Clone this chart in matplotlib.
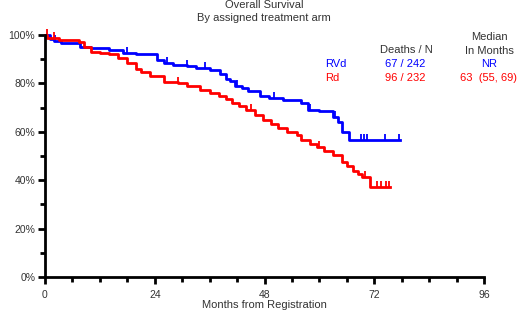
import numpy as np
import matplotlib
matplotlib.use("Agg")
import matplotlib.pyplot as plt

plt.rcParams['font.family'] = ['Liberation Sans', 'DejaVu Sans']

# Kaplan-Meier step data (months, % surviving)
rvd_t = [0, 1, 2, 3.5, 5, 7.7, 10, 14, 17, 20, 24.5, 26, 28, 31, 33, 36, 38.3,
         39.5, 40.5, 41.5, 43, 44.5, 47, 49, 52, 56, 57.5, 60, 63, 64, 65, 66.5, 77.7]
rvd_s = [100, 98.5, 97.5, 96.7, 96.5, 95, 94.6, 93.8, 92.5, 92, 89.7, 88.5, 87.6,
         87, 86.4, 85.5, 84, 82, 81, 79, 78, 77, 75, 74, 73, 72, 69, 68.5, 66, 64,
         60, 56.6, 56.6]
rd_t = [0, 0.5, 3, 7.5, 8.5, 10, 12, 14, 16, 18, 20, 21, 23, 26, 29, 31, 34, 36,
        38, 39.5, 41, 42.5, 44, 46, 47.7, 49.5, 51, 53, 55, 56, 58, 59.5, 61, 63,
        65, 66, 67.4, 68.5, 69.4, 71, 75.5]
rd_s = [100, 98.8, 98, 97, 95, 93, 92.5, 92, 90.5, 88.5, 86, 84.7, 83, 80.6, 80,
        79, 77.3, 76.2, 75, 73.5, 72, 70.5, 69, 67, 65, 63.3, 61.6, 60, 58.7, 56.6,
        55, 53.7, 52, 50.4, 47.5, 46, 44, 42.5, 41.3, 37.2, 37.2]

# censored observations (months)
rvd_cens = [2.2, 18, 26.7, 31, 35, 42, 50, 58, 63.5, 69, 69.8, 70.5, 74.4, 77.5]
rd_cens = [0.4, 2, 29, 45, 60, 70, 72.5, 73.5, 74.5, 75.3]

arms = ['RVd', 'Rd']
deaths_n = ['67 / 242', '96 / 232']
medians = ['NR', '63  (55, 69)']
colors = ['#0000ff', '#ff0000']


def surv_at(t, s, x):
    i = np.searchsorted(t, x, side='right') - 1
    return np.array(s)[i]


fig = plt.figure(figsize=(5.2, 3.12), dpi=100)
ax = fig.add_axes([45 / 520, 35 / 312, 439 / 520, 242 / 312])

for t, s, cens, c in [(rvd_t, rvd_s, rvd_cens, colors[0]), (rd_t, rd_s, rd_cens, colors[1])]:
    ax.step(t, s, where='post', color=c, lw=2, clip_on=False)
    ax.plot(cens, surv_at(t, s, cens) + 1.3, linestyle='none', marker='|',
            color=c, markersize=5, mew=1.3, clip_on=False)

ax.set_xlim(0, 96)
ax.set_ylim(0, 100)
ax.set_xticks([0, 24, 48, 72, 96])
ax.set_xticks(np.arange(0, 97, 6), minor=True)
ax.set_yticks(range(0, 101, 20))
ax.set_yticks(range(0, 101, 10), minor=True)
ax.set_yticklabels([f'{v}%' for v in range(0, 101, 20)])
for side in ['top', 'right']:
    ax.spines[side].set_visible(False)
for side in ['left', 'bottom']:
    ax.spines[side].set_linewidth(2)
ax.tick_params(which='major', length=5, width=2, labelsize=7.5, colors='black', pad=2)
ax.tick_params(which='minor', length=3.5, width=2)
ax.tick_params(axis='both', labelcolor='#333333')
ax.tick_params(axis='x', pad=4)
ax.set_xlabel('Months from Registration', fontsize=8, color='#333333', labelpad=0)

fig.text(264 / 520, 1 - 5 / 312, 'Overall Survival', ha='center', va='center',
         fontsize=8, color='#333333')
fig.text(264 / 520, 1 - 18 / 312, 'By assigned treatment arm', ha='center', va='center',
         fontsize=8, color='#333333')

fig.text(406 / 520, 1 - 50 / 312, 'Deaths / N', ha='center', va='center', fontsize=8, color='#333333')
fig.text(489 / 520, 1 - 37 / 312, 'Median', ha='center', va='center', fontsize=8, color='#333333')
fig.text(489 / 520, 1 - 51 / 312, 'In Months', ha='center', va='center', fontsize=8, color='#333333')
for i, (a, d, m, c) in enumerate(zip(arms, deaths_n, medians, colors)):
    y = 1 - (64 + 14 * i) / 312
    fig.text(325 / 520, y, a, ha='left', va='center', fontsize=8, color=c)
    fig.text(405 / 520, y, d, ha='center', va='center', fontsize=8, color=c)
    fig.text(489 / 520, y, m, ha='center', va='center', fontsize=8, color=c)

fig.savefig('out.png', dpi=100)
